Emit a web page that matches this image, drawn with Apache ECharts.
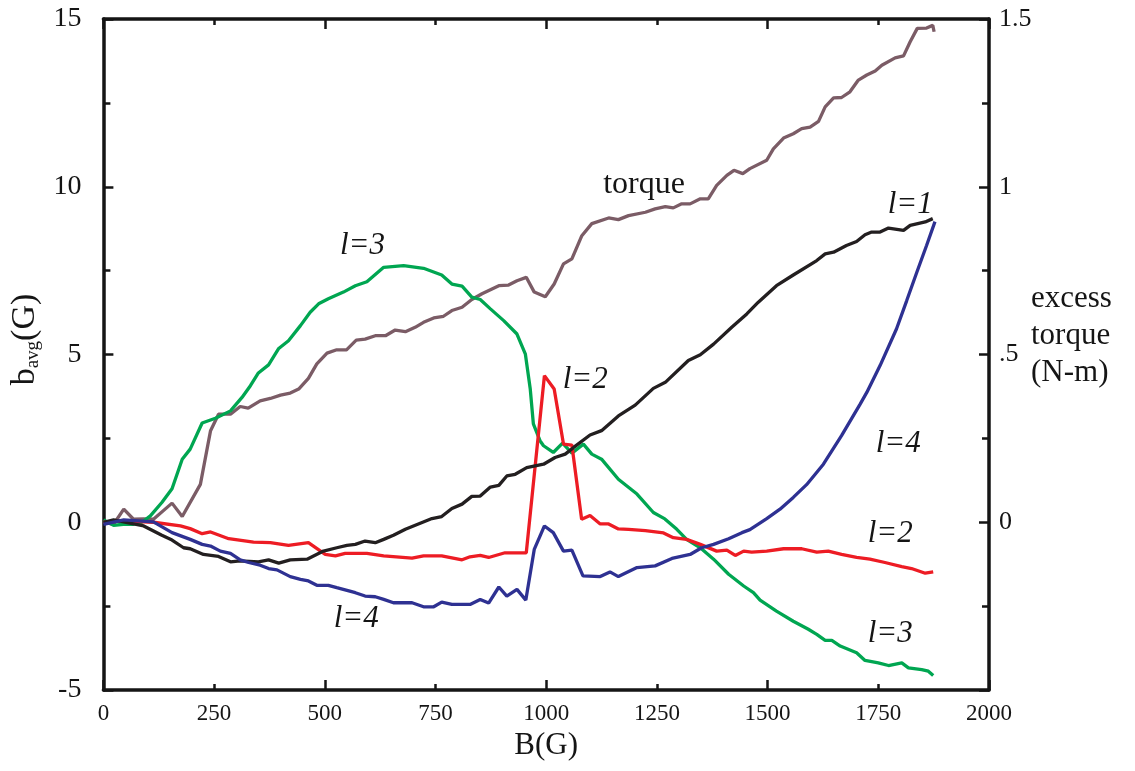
<!DOCTYPE html>
<html>
<head>
<meta charset="utf-8">
<script src="https://cdn.jsdelivr.net/npm/echarts@6/dist/echarts.min.js"></script>
<style>html,body{margin:0;padding:0;background:#fff}#c{width:1135px;height:771px}</style>
</head>
<body>
<div id="c"></div>
<script>
// ---- data (B in gauss, b_avg in gauss, torque in N-m) ----
const xTicks = [0, 250, 500, 750, 1000, 1250, 1500, 1750, 2000];
const rightTickLabels = { '1.5': '1.5', '1': '1', '0.5': '.5', '0': '0' };

const l1 = [[0,0],[23,0.07],[91,-0.11],[132,-0.39],[155,-0.53],[181,-0.76],[196,-0.79],[226,-0.96],[260,-1.02],[287,-1.18],[309,-1.15],[350,-1.18],[373,-1.12],[396,-1.22],[422,-1.12],[460,-1.10],[497,-0.86],[527,-0.76],[550,-0.69],[569,-0.66],[591,-0.56],[614,-0.61],[633,-0.51],[655,-0.39],[682,-0.21],[742,0.11],[764,0.17],[787,0.41],[810,0.54],[832,0.77],[851,0.78],[874,1.05],[893,1.10],[911,1.38],[930,1.43],[956,1.63],[994,1.73],[1020,1.93],[1043,2.03],[1062,2.23],[1099,2.60],[1125,2.73],[1163,3.17],[1201,3.49],[1242,3.99],[1269,4.17],[1321,4.82],[1348,4.99],[1378,5.31],[1419,5.81],[1453,6.21],[1479,6.56],[1520,7.05],[1558,7.37],[1611,7.80],[1630,8.0],[1649,8.05],[1678,8.25],[1701,8.37],[1720,8.57],[1735,8.65],[1754,8.65],[1773,8.77],[1807,8.70],[1822,8.85],[1856,8.95],[1873,9.05]];

const l2 = [[0,0],[46,0.04],[113,0],[174,-0.11],[196,-0.19],[223,-0.34],[242,-0.29],[283,-0.49],[339,-0.59],[377,-0.61],[418,-0.69],[463,-0.61],[501,-0.96],[524,-1.0],[546,-0.93],[595,-0.93],[633,-1.0],[697,-1.07],[723,-1.0],[764,-1.0],[810,-1.12],[828,-1.03],[851,-0.99],[870,-1.05],[907,-0.91],[955,-0.91],[996,4.37],[1018,3.97],[1039,2.33],[1058,2.30],[1080,0.09],[1099,0.20],[1122,-0.05],[1141,-0.05],[1163,-0.20],[1186,-0.21],[1224,-0.25],[1265,-0.32],[1287,-0.46],[1317,-0.51],[1348,-0.66],[1385,-0.86],[1408,-0.83],[1427,-0.99],[1446,-0.86],[1464,-0.89],[1498,-0.86],[1536,-0.79],[1577,-0.79],[1611,-0.89],[1637,-0.86],[1667,-0.96],[1701,-1.05],[1731,-1.10],[1765,-1.20],[1803,-1.32],[1825,-1.38],[1856,-1.52],[1874,-1.48]];

const l3 = [[0,0.07],[23,-0.09],[45,-0.06],[68,-0.06],[87,0],[106,0.19],[132,0.59],[155,1.0],[178,1.88],[196,2.18],[223,2.96],[253,3.10],[287,3.32],[313,3.72],[332,4.07],[350,4.45],[373,4.69],[396,5.18],[418,5.41],[445,5.86],[467,6.26],[486,6.51],[508,6.66],[542,6.86],[569,7.05],[595,7.17],[633,7.60],[678,7.65],[723,7.57],[764,7.37],[787,7.10],[810,7.04],[832,6.71],[851,6.64],[874,6.36],[904,6.01],[934,5.61],[953,5.01],[964,3.97],[971,2.93],[986,2.43],[994,2.28],[1016,2.08],[1037,2.36],[1058,2.06],[1084,2.33],[1103,2.03],[1125,1.88],[1163,1.28],[1205,0.84],[1242,0.29],[1268,0.10],[1295,-0.21],[1317,-0.51],[1348,-0.76],[1378,-1.10],[1412,-1.55],[1446,-1.90],[1468,-2.10],[1483,-2.32],[1520,-2.65],[1558,-2.95],[1592,-3.19],[1611,-3.34],[1630,-3.52],[1645,-3.52],[1664,-3.69],[1701,-3.89],[1720,-4.12],[1750,-4.19],[1773,-4.27],[1803,-4.19],[1818,-4.34],[1848,-4.39],[1863,-4.44],[1874,-4.57]];

const l4 = [[0,-0.06],[46,0.07],[113,0.01],[155,-0.31],[196,-0.51],[223,-0.66],[242,-0.71],[264,-0.86],[287,-0.93],[309,-1.12],[328,-1.20],[354,-1.28],[373,-1.38],[392,-1.42],[422,-1.62],[445,-1.70],[463,-1.75],[482,-1.88],[508,-1.88],[527,-1.95],[569,-2.10],[591,-2.20],[614,-2.22],[633,-2.30],[655,-2.40],[697,-2.40],[723,-2.52],[746,-2.52],[764,-2.38],[787,-2.45],[828,-2.45],[851,-2.30],[870,-2.41],[893,-1.93],[911,-2.20],[934,-2.0],[954,-2.32],[973,-0.81],[996,-0.11],[1016,-0.31],[1039,-0.86],[1058,-0.83],[1083,-1.60],[1122,-1.62],[1144,-1.48],[1163,-1.62],[1205,-1.35],[1246,-1.30],[1284,-1.08],[1325,-0.96],[1351,-0.76],[1378,-0.66],[1412,-0.49],[1442,-0.31],[1460,-0.22],[1498,0.11],[1528,0.39],[1558,0.74],[1588,1.12],[1626,1.73],[1667,2.58],[1709,3.52],[1724,3.87],[1754,4.67],[1791,5.76],[1814,6.6],[1837,7.45],[1859,8.25],[1878,8.96]];

const torque = [[0,0],[23,-0.006],[46,0.039],[68,0.009],[91,0.01],[113,0.009],[155,0.057],[178,0.017],[219,0.113],[242,0.273],[260,0.322],[287,0.322],[309,0.345],[327,0.340],[354,0.362],[377,0.369],[400,0.379],[422,0.385],[441,0.397],[463,0.429],[482,0.472],[505,0.504],[527,0.514],[549,0.514],[571,0.543],[591,0.546],[614,0.556],[637,0.556],[659,0.573],[682,0.568],[704,0.581],[723,0.596],[746,0.609],[768,0.614],[787,0.631],[810,0.641],[832,0.664],[855,0.681],[874,0.693],[893,0.705],[915,0.707],[934,0.720],[955,0.730],[973,0.686],[998,0.672],[1018,0.710],[1039,0.770],[1058,0.785],[1080,0.853],[1103,0.890],[1141,0.907],[1163,0.902],[1186,0.914],[1224,0.924],[1246,0.934],[1269,0.941],[1287,0.937],[1306,0.949],[1325,0.949],[1348,0.964],[1366,0.964],[1385,1.004],[1408,1.034],[1424,1.049],[1444,1.039],[1460,1.054],[1498,1.079],[1513,1.113],[1536,1.145],[1558,1.158],[1577,1.173],[1596,1.178],[1615,1.195],[1630,1.238],[1649,1.265],[1667,1.266],[1686,1.283],[1705,1.318],[1724,1.333],[1743,1.345],[1758,1.362],[1788,1.384],[1807,1.390],[1822,1.432],[1838,1.472],[1859,1.473],[1873,1.481],[1876,1.462]];

// annotation texts and their positions in data units (B, b_avg)
const noteText = ['torque', 'l=1', 'l=3', 'l=2', 'l=4', 'l=2', 'l=4', 'l=3'];
const noteB    = [1221, 1822, 585, 1088, 1795, 1777, 571, 1777];
const noteV    = [10.07, 9.45, 8.23, 4.23, 2.35, -0.36, -2.89, -3.34];

// ---- chart ----
const FONT = '"Liberation Serif", "DejaVu Serif", serif';
const INK = '#151515';
const chart = echarts.init(document.getElementById('c'));
const grid = { left: 103, right: 146, top: 19, bottom: 81 };

function lineSeries(data, color, yIdx) {
  return { type: 'line', data: data, xAxisIndex: 0, yAxisIndex: yIdx, showSymbol: false, symbol: 'none',
           lineStyle: { color: color, width: 3.3 }, itemStyle: { color: color }, z: 3, silent: true };
}

const axisLineStyle = { show: true, onZero: false, lineStyle: { color: INK, width: 3.5 } };
const tickStyle = (len) => ({ inside: true, length: len, lineStyle: { color: INK, width: 2.5 } });

chart.setOption({
  animation: false,
  backgroundColor: '#ffffff',
  grid: grid,
  xAxis: [
    { type: 'value', position: 'bottom', min: 0, max: 2000, interval: 250,
      axisLine: axisLineStyle, splitLine: { show: false }, axisTick: tickStyle(6),
      axisLabel: { margin: 12, fontFamily: FONT, fontSize: 23, color: INK,
                   formatter: v => (xTicks.indexOf(v) >= 0 ? String(v) : '') },
      name: 'B(G)', nameLocation: 'middle', nameGap: 38,
      nameTextStyle: { fontFamily: FONT, fontSize: 31, color: INK } },
    { type: 'value', position: 'top', min: 0, max: 2000, interval: 250,
      axisLine: axisLineStyle, splitLine: { show: false }, axisTick: tickStyle(6),
      axisLabel: { show: false } },
    { type: 'value', position: 'bottom', min: 0, max: 2000, interval: 500,
      axisLine: { show: false, onZero: false }, splitLine: { show: false }, axisTick: tickStyle(10),
      axisLabel: { show: false } },
    { type: 'value', position: 'top', min: 0, max: 2000, interval: 500,
      axisLine: { show: false, onZero: false }, splitLine: { show: false }, axisTick: tickStyle(10),
      axisLabel: { show: false } }
  ],
  yAxis: [
    { type: 'value', position: 'left', min: -5, max: 15, interval: 2.5,
      axisLine: axisLineStyle, splitLine: { show: false }, axisTick: tickStyle(7),
      axisLabel: { margin: 22, fontFamily: FONT, fontSize: 28, color: INK,
                   formatter: v => (v % 5 === 0 ? String(v) : '') },
      name: '{b|b}{s|avg}{b|(G)}', nameLocation: 'middle', nameGap: 58, nameRotate: 90,
      nameTextStyle: { padding: [0, 0, 0, 30],
        rich: { b: { fontFamily: FONT, fontSize: 34, color: INK, lineHeight: 40 },
                s: { fontFamily: FONT, fontSize: 19, color: INK, padding: [16, 0, 0, 0] } } } },
    { type: 'value', position: 'right', min: -0.5, max: 1.5, interval: 0.25,
      axisLine: axisLineStyle, splitLine: { show: false }, axisTick: tickStyle(7),
      axisLabel: { margin: 10, fontFamily: FONT, fontSize: 26, color: INK,
                   formatter: v => (rightTickLabels[String(v)] || '') },
      name: 'excess\ntorque\n(N-m)\n ', nameLocation: 'middle', nameGap: 42, nameRotate: 0,
      nameMoveOverlap: false,
      nameTextStyle: { fontFamily: FONT, fontSize: 31, color: INK, lineHeight: 37, align: 'left' } },
    { type: 'value', position: 'left', min: -5, max: 15, interval: 5,
      axisLine: { show: false, onZero: false }, splitLine: { show: false }, axisTick: tickStyle(10),
      axisLabel: { show: false } },
    { type: 'value', position: 'right', min: -0.5, max: 1.5, interval: 0.5,
      axisLine: { show: false, onZero: false }, splitLine: { show: false }, axisTick: tickStyle(10),
      axisLabel: { show: false } }
  ],
  series: [
    lineSeries(torque, '#7b5c66', 1),
    lineSeries(l3, '#00a651', 0),
    lineSeries(l2, '#ed1c24', 0),
    lineSeries(l1, '#231f20', 0),
    lineSeries(l4, '#2e3192', 0)
  ]
});

// place the text annotations through the chart's own scales
const notes = noteText.map((t, i) => {
  const p = chart.convertToPixel({ xAxisIndex: 0, yAxisIndex: 0 }, [noteB[i], noteV[i]]);
  return { type: 'text', x: p[0], y: p[1], z: 10, silent: true,
           style: { text: t, fill: INK, align: 'center', verticalAlign: 'middle',
                    font: (t === 'torque' ? 'normal 32px ' : 'italic 31px ') + FONT } };
});
chart.setOption({ graphic: notes });
</script>
</body>
</html>
